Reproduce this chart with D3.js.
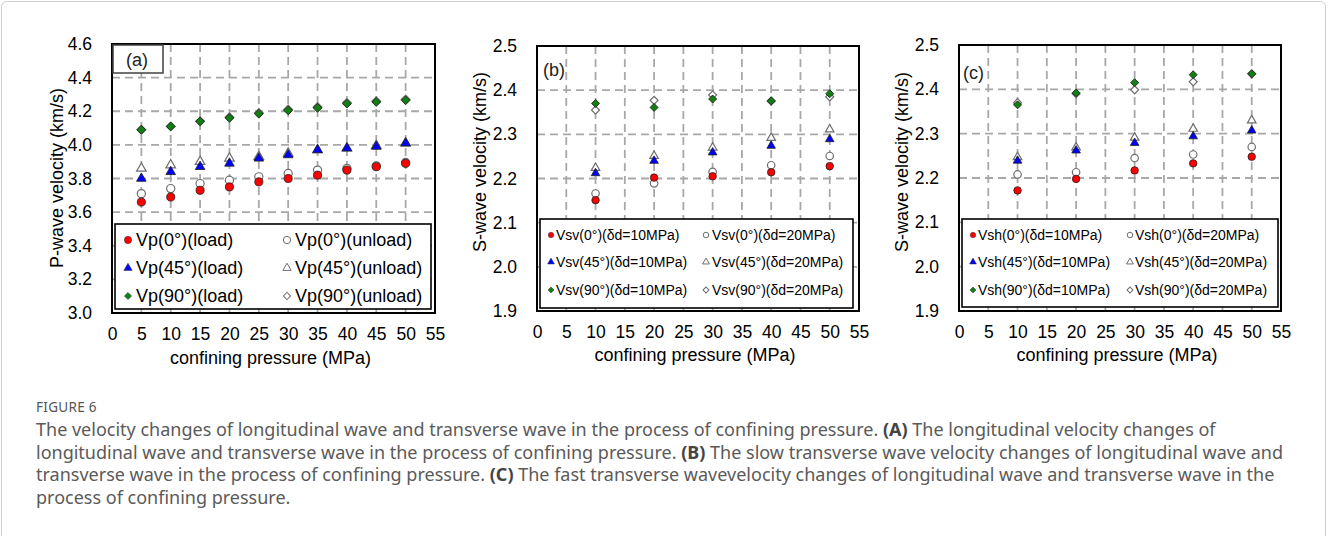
<!DOCTYPE html>
<html><head><meta charset="utf-8">
<script src="https://cdn.jsdelivr.net/npm/d3@7"></script>
<style>
body{margin:0;background:#fff;}
svg{display:block;}
</style></head>
<body><svg id="chart" width="1328" height="536"></svg>
<script>
// ---------- data ----------
const xTicks = [0,5,10,15,20,25,30,35,40,45,50,55];
const yTicksA = [3.0,3.2,3.4,3.6,3.8,4.0,4.2,4.4,4.6];
const yTicksBC = [1.9,2.0,2.1,2.2,2.3,2.4,2.5];

const pressureA = [5,10,15,20,25,30,35,40,45,50];
const vp0Load    = [3.66,3.69,3.73,3.75,3.78,3.80,3.82,3.85,3.87,3.89];
const vp0Unload  = [3.71,3.74,3.77,3.79,3.81,3.83,3.85,3.86,3.875,3.895];
const vp45Load   = [3.80,3.84,3.87,3.89,3.92,3.94,3.97,3.98,3.99,4.01];
const vp45Unload = [3.86,3.88,3.90,3.92,3.93,3.95,3.97,3.98,3.995,4.01];
const vp90Load   = [4.09,4.11,4.14,4.16,4.185,4.205,4.22,4.245,4.255,4.265];
const vp90Unload = [4.09,4.11,4.14,4.165,4.19,4.21,4.225,4.25,4.26,4.27];

const pressureBC = [10,20,30,40,50];
const vsv0_10  = [2.151,2.202,2.205,2.214,2.228];
const vsv0_20  = [2.166,2.189,2.215,2.230,2.251];
const vsv45_10 = [2.212,2.240,2.259,2.274,2.289];
const vsv45_20 = [2.224,2.251,2.270,2.292,2.311];
const vsv90_10 = [2.370,2.361,2.380,2.376,2.392];
const vsv90_20 = [2.355,2.377,2.389,2.375,2.385];

const vsh0_10  = [2.172,2.198,2.217,2.233,2.248];
const vsh0_20  = [2.208,2.213,2.245,2.253,2.270];
const vsh45_10 = [2.239,2.262,2.279,2.294,2.307];
const vsh45_20 = [2.247,2.269,2.291,2.311,2.330];
const vsh90_10 = [2.365,2.392,2.415,2.433,2.435];
const vsh90_20 = [2.370,2.390,2.399,2.417,2.435];

const legendA = ["Vp(0°)(load)","Vp(0°)(unload)","Vp(45°)(load)","Vp(45°)(unload)","Vp(90°)(load)","Vp(90°)(unload)"];
const legendB = ["Vsv(0°)(δd=10MPa)","Vsv(0°)(δd=20MPa)","Vsv(45°)(δd=10MPa)","Vsv(45°)(δd=20MPa)","Vsv(90°)(δd=10MPa)","Vsv(90°)(δd=20MPa)"];
const legendC = ["Vsh(0°)(δd=10MPa)","Vsh(0°)(δd=20MPa)","Vsh(45°)(δd=10MPa)","Vsh(45°)(δd=20MPa)","Vsh(90°)(δd=10MPa)","Vsh(90°)(δd=20MPa)"];

// ---------- drawing ----------
const svg = d3.select("#chart");
svg.append("rect").attr("width",1328).attr("height",536).attr("fill","#fff");
svg.append("rect").attr("x",1.5).attr("y",1.5).attr("width",1324).attr("height",580)
  .attr("rx",5).attr("fill","none").attr("stroke","#cfcfcf").attr("stroke-width",1);

const FONT = "'Liberation Sans', Arial, sans-serif";
const RED="#ff0000", BLUE="#0000ff", GREEN="#108010", HOLLOW="#6e6e6e";

function markerPath(shape, size){
  if(shape==="circle") return d3.symbol(d3.symbolCircle, size)();
  if(shape==="triangle") return d3.symbol(d3.symbolTriangle, size)();
  return d3.symbol(d3.symbolSquare, size)();
}
function drawMarker(g, shape, size, fill, stroke, sw, x, y){
  const p = g.append("path").attr("d", markerPath(shape,size))
    .attr("fill",fill).attr("stroke",stroke).attr("stroke-width",sw);
  p.attr("transform", `translate(${x},${y})` + (shape==="diamond" ? " rotate(45)" : ""));
  return p;
}

function panel(cfg){
  const g = svg.append("g");
  const x = d3.scaleLinear().domain([0,55]).range([cfg.left,cfg.right]);
  const y = d3.scaleLinear().domain(cfg.ydom).range([cfg.bottom,cfg.top]);

  // grid
  g.append("g").selectAll("line").data(xTicks.slice(1,-1)).join("line")
    .attr("x1",d=>x(d)).attr("x2",d=>x(d)).attr("y1",cfg.top).attr("y2",cfg.bottom)
    .attr("stroke","#a8a8a8").attr("stroke-width",1.8).attr("stroke-dasharray","8,5");
  g.append("g").selectAll("line").data(cfg.yticks.slice(1,-1)).join("line")
    .attr("y1",d=>y(d)).attr("y2",d=>y(d)).attr("x1",cfg.left).attr("x2",cfg.right)
    .attr("stroke","#a8a8a8").attr("stroke-width",1.8).attr("stroke-dasharray","8,5");

  // axes
  const ax = g.append("g").attr("transform",`translate(0,${cfg.bottom})`)
    .call(d3.axisBottom(x).tickValues(xTicks).tickSize(0).tickPadding(cfg.xpad).tickFormat(d3.format("d")));
  ax.select(".domain").remove();
  ax.selectAll("text").attr("font-family",FONT).attr("font-size",17.5).attr("fill","#000");
  const ay = g.append("g").attr("transform",`translate(${cfg.left},0)`)
    .call(d3.axisLeft(y).tickValues(cfg.yticks).tickSize(0).tickPadding(20).tickFormat(d3.format(".1f")));
  ay.select(".domain").remove();
  ay.selectAll("text").attr("font-family",FONT).attr("font-size",17.5).attr("fill","#000");

  // titles
  g.append("text").attr("x",(cfg.left+cfg.right)/2 - 3).attr("y",cfg.xtitleY)
    .attr("text-anchor","middle").attr("font-family",FONT).attr("font-size",18).text("confining pressure (MPa)");
  g.append("text").attr("transform",`translate(${cfg.ytitleX},${cfg.ytitleY}) rotate(-90)`)
    .attr("text-anchor","middle").attr("dominant-baseline","central")
    .attr("font-family",FONT).attr("font-size",18).text(cfg.ytitle);

  // series: hollow first then filled on top
  const mk = cfg.mk;
  cfg.series.filter(s=>s.hollow).concat(cfg.series.filter(s=>!s.hollow)).forEach(s=>{
    const sg = g.append("g");
    s.values.forEach((v,i)=>{
      drawMarker(sg, s.shape, mk[s.shape], s.hollow ? "#fff" : s.color,
        s.hollow ? HOLLOW : "#202020", s.hollow ? 1.2 : 0.8, x(cfg.xs[i]), y(v));
    });
  });

  // frame
  g.append("rect").attr("x",cfg.left).attr("y",cfg.top).attr("width",cfg.right-cfg.left)
    .attr("height",cfg.bottom-cfg.top).attr("fill","none").attr("stroke","#000").attr("stroke-width",2);

  // legend
  const L = cfg.legend;
  g.append("rect").attr("x",L.x0).attr("y",L.y0).attr("width",L.x1-L.x0).attr("height",L.y1-L.y0)
    .attr("fill","#fff").attr("stroke","#000").attr("stroke-width",1.6);
  cfg.series.forEach((s,i)=>{
    const col = i%2, row = Math.floor(i/2);
    const mx = L.mx[col], cy = L.rows[row];
    drawMarker(g, s.shape, L.mk[s.shape], s.hollow ? "#fff" : s.color,
      s.hollow ? HOLLOW : "#303030", s.hollow ? 1 : 0.5, mx, cy);
    g.append("text").attr("x",L.tx[col]).attr("y",cy).attr("dominant-baseline","central")
      .attr("font-family",FONT).attr("font-size",L.fs).attr("fill","#000").text(cfg.labels[i]);
  });

  // panel tag
  if(cfg.tagBox){
    g.append("rect").attr("x",cfg.tagBox[0]).attr("y",cfg.tagBox[1]).attr("width",cfg.tagBox[2]).attr("height",cfg.tagBox[3])
      .attr("fill","#fff").attr("stroke","#404040").attr("stroke-width",1.5);
  }
  g.append("text").attr("x",cfg.tag[1]).attr("y",cfg.tag[2]).attr("dominant-baseline","central")
    .attr("text-anchor",cfg.tagBox ? "middle" : "start")
    .attr("font-family",FONT).attr("font-size",18).attr("fill","#222").text(cfg.tag[0]);
}

const mkA = {circle:52, triangle:40, diamond:38};
const mkBC = {circle:44, triangle:32, diamond:32};
const legMkA = {circle:42, triangle:30, diamond:26};
const legMkBC = {circle:24, triangle:20, diamond:18};

panel({
  left:112, right:435, top:44, bottom:313, ydom:[3.0,4.6], yticks:yTicksA, xpad:15,
  xtitleY:364, ytitleX:57, ytitleY:178, ytitle:"P-wave velocity (km/s)",
  xs:pressureA, mk:mkA, labels:legendA,
  series:[
    {values:vp0Load, shape:"circle", color:RED},
    {values:vp0Unload, shape:"circle", hollow:true},
    {values:vp45Load, shape:"triangle", color:BLUE},
    {values:vp45Unload, shape:"triangle", hollow:true},
    {values:vp90Load, shape:"diamond", color:GREEN},
    {values:vp90Unload, shape:"diamond", hollow:true}
  ],
  legend:{x0:115, x1:431, y0:224, y1:309, rows:[240,268,296], mx:[128,287], tx:[136,295], fs:18, mk:legMkA},
  tag:["(a)",137,60], tagBox:[113,45,50,28]
});

panel({
  left:537, right:859, top:46, bottom:311, ydom:[1.9,2.5], yticks:yTicksBC, xpad:15,
  xtitleY:361, ytitleX:480, ytitleY:162, ytitle:"S-wave velocity (km/s)",
  xs:pressureBC, mk:mkBC, labels:legendB,
  series:[
    {values:vsv0_10, shape:"circle", color:RED},
    {values:vsv0_20, shape:"circle", hollow:true},
    {values:vsv45_10, shape:"triangle", color:BLUE},
    {values:vsv45_20, shape:"triangle", hollow:true},
    {values:vsv90_10, shape:"diamond", color:GREEN},
    {values:vsv90_20, shape:"diamond", hollow:true}
  ],
  legend:{x0:540, x1:853, y0:219, y1:308, rows:[235,262,290], mx:[551,706], tx:[556,712], fs:14, mk:legMkBC},
  tag:["(b)",543,70]
});

panel({
  left:959, right:1281, top:45, bottom:311, ydom:[1.9,2.5], yticks:yTicksBC, xpad:15,
  xtitleY:361, ytitleX:902, ytitleY:162, ytitle:"S-wave velocity (km/s)",
  xs:pressureBC, mk:mkBC, labels:legendC,
  series:[
    {values:vsh0_10, shape:"circle", color:RED},
    {values:vsh0_20, shape:"circle", hollow:true},
    {values:vsh45_10, shape:"triangle", color:BLUE},
    {values:vsh45_20, shape:"triangle", hollow:true},
    {values:vsh90_10, shape:"diamond", color:GREEN},
    {values:vsh90_20, shape:"diamond", hollow:true}
  ],
  legend:{x0:962, x1:1278, y0:219, y1:307, rows:[235,262,290], mx:[973,1130], tx:[978,1135], fs:14, mk:legMkBC},
  tag:["(c)",963,73]
});

// ---------- caption ----------
const CAP = "'Noto Sans', 'Open Sans', sans-serif";
svg.append("text").attr("x",36).attr("y",412).attr("font-family",CAP).attr("font-size",13.5)
  .attr("fill","#555").attr("letter-spacing",0.3).text("FIGURE 6");
const capLines = [
  [["The velocity changes of longitudinal wave and transverse wave in the process of confining pressure. ",0],["(A)",1],[" The longitudinal velocity changes of",0]],
  [["longitudinal wave and transverse wave in the process of confining pressure. ",0],["(B)",1],[" The slow transverse wave velocity changes of longitudinal wave and",0]],
  [["transverse wave in the process of confining pressure. ",0],["(C)",1],[" The fast transverse wavevelocity changes of longitudinal wave and transverse wave in the",0]],
  [["process of confining pressure.",0]]
];
const capY = [436, 458.5, 481, 503.5];
capLines.forEach((line,i)=>{
  const t = svg.append("text").attr("x",36).attr("y",capY[i]).attr("font-family",CAP)
    .attr("font-size",18).attr("fill","#5a5a5a");
  line.forEach(([s,b])=>{
    t.append("tspan").attr("font-weight",b?700:400).attr("fill",b?"#444":"#5a5a5a").text(s);
  });
});
</script>
</body></html>
